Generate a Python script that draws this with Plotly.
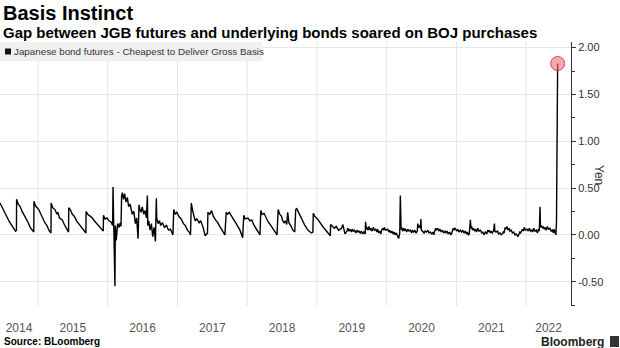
import pandas as pd
import plotly.graph_objects as go

# JGB futures cheapest-to-deliver gross basis (yen), by year
dates_2014 = ["2014-06-16", "2014-06-25", "2014-07-03", "2014-07-14", "2014-07-24", "2014-08-04",
              "2014-08-14", "2014-08-25", "2014-09-05", "2014-09-10", "2014-09-11", "2014-09-19",
              "2014-09-30", "2014-10-10", "2014-10-21", "2014-10-31", "2014-11-11", "2014-11-21",
              "2014-12-02", "2014-12-10", "2014-12-11", "2014-12-19"]
basis_2014 = [0.34, 0.30, 0.27, 0.22, 0.19, 0.14,
              0.11, 0.07, 0.04, 0.05, 0.38, 0.33,
              0.30, 0.25, 0.21, 0.16, 0.13, 0.08,
              0.05, 0.03, 0.36, 0.31]

dates_2015 = ["2015-01-05", "2015-01-15", "2015-01-27", "2015-02-06", "2015-02-17", "2015-02-27",
              "2015-03-10", "2015-03-11", "2015-03-19", "2015-03-31", "2015-04-10", "2015-04-15",
              "2015-04-24", "2015-05-08", "2015-05-19", "2015-05-29", "2015-06-10", "2015-06-11",
              "2015-06-19", "2015-06-30", "2015-07-10", "2015-07-22", "2015-08-03", "2015-08-14",
              "2015-08-26", "2015-09-09", "2015-09-10", "2015-09-18", "2015-10-01", "2015-10-13",
              "2015-10-23", "2015-11-04", "2015-11-16", "2015-11-27", "2015-12-09", "2015-12-10",
              "2015-12-18", "2015-12-28"]
basis_2015 = [0.27, 0.22, 0.18, 0.13, 0.10, 0.05,
              0.02, 0.34, 0.29, 0.27, 0.22, 0.24,
              0.18, 0.16, 0.11, 0.07, 0.03, 0.29,
              0.27, 0.22, 0.20, 0.15, 0.12, 0.08,
              0.05, 0.02, 0.25, 0.22, 0.20, 0.18,
              0.15, 0.12, 0.09, 0.06, 0.04, 0.21,
              0.17, 0.18]

dates_2016 = ["2016-01-08", "2016-01-18", "2016-01-27", "2016-01-29", "2016-02-02", "2016-02-08",
              "2016-02-10", "2016-02-15", "2016-02-22", "2016-03-01", "2016-03-07", "2016-03-11",
              "2016-03-14", "2016-03-18", "2016-03-24", "2016-03-30", "2016-04-06", "2016-04-13",
              "2016-04-20", "2016-04-27", "2016-05-09", "2016-05-17", "2016-05-25", "2016-06-01",
              "2016-06-08", "2016-06-13", "2016-06-17", "2016-06-24", "2016-06-30", "2016-07-08",
              "2016-07-15", "2016-07-22", "2016-07-27", "2016-07-29", "2016-08-03", "2016-08-10",
              "2016-08-17", "2016-08-24", "2016-08-31", "2016-09-07", "2016-09-12", "2016-09-14",
              "2016-09-21", "2016-09-28", "2016-10-05", "2016-10-14", "2016-10-24", "2016-11-04",
              "2016-11-15", "2016-11-25", "2016-12-08", "2016-12-12", "2016-12-20", "2016-12-28"]
basis_2016 = [0.15, 0.14, 0.10, 0.51, 0.05, -0.55,
              0.10, -0.06, 0.12, 0.08, 0.13, 0.09,
              0.42, 0.45, 0.38, 0.44, 0.35, 0.40,
              0.30, 0.33, 0.22, 0.25, 0.12, 0.18,
              -0.04, 0.32, 0.28, 0.24, 0.30, 0.22,
              0.26, 0.18, 0.42, 0.10, 0.15, 0.05,
              0.12, -0.02, 0.08, -0.07, 0.39, 0.18,
              0.12, 0.15, 0.10, 0.13, 0.08, 0.10,
              0.05, 0.06, 0.00, 0.27, 0.22, 0.24]

dates_2017 = ["2017-01-10", "2017-01-20", "2017-02-01", "2017-02-10", "2017-02-22", "2017-03-03",
              "2017-03-10", "2017-03-14", "2017-03-22", "2017-04-03", "2017-04-12", "2017-04-24",
              "2017-05-02", "2017-05-15", "2017-05-26", "2017-06-07", "2017-06-09", "2017-06-19",
              "2017-06-28", "2017-07-07", "2017-07-19", "2017-07-31", "2017-08-10", "2017-08-23",
              "2017-09-06", "2017-09-13", "2017-09-20", "2017-09-29", "2017-10-10", "2017-10-20",
              "2017-11-01", "2017-11-13", "2017-11-24", "2017-12-08", "2017-12-14", "2017-12-21"]
basis_2017 = [0.19, 0.17, 0.12, 0.10, 0.05, 0.03,
              0.00, 0.34, 0.25, 0.15, 0.17, 0.13,
              0.15, 0.08, -0.01, 0.02, 0.24, 0.22,
              0.26, 0.20, 0.16, 0.13, 0.09, 0.05,
              0.00, 0.24, 0.22, 0.24, 0.21, 0.17,
              0.13, 0.09, 0.05, -0.03, 0.21, 0.17]

dates_2018 = ["2018-01-05", "2018-01-15", "2018-01-25", "2018-02-06", "2018-02-16", "2018-02-28",
              "2018-03-09", "2018-03-13", "2018-03-20", "2018-03-30", "2018-04-10", "2018-04-20",
              "2018-05-02", "2018-05-15", "2018-05-25", "2018-06-06", "2018-06-12", "2018-06-20",
              "2018-06-29", "2018-07-06", "2018-07-13", "2018-07-20", "2018-07-27", "2018-08-01",
              "2018-08-07", "2018-08-17", "2018-08-28", "2018-09-07", "2018-09-12", "2018-09-18",
              "2018-09-27", "2018-10-08", "2018-10-18", "2018-10-30", "2018-11-09", "2018-11-20",
              "2018-12-04", "2018-12-11", "2018-12-13", "2018-12-20"]
basis_2018 = [0.18, 0.15, 0.16, 0.10, 0.07, 0.03,
              0.00, 0.26, 0.22, 0.23, 0.18, 0.14,
              0.11, 0.07, 0.04, 0.00, 0.27, 0.22,
              0.20, 0.15, 0.13, 0.15, 0.11, 0.24,
              0.13, 0.10, 0.05, 0.03, 0.27, 0.28,
              0.24, 0.19, 0.15, 0.10, 0.07, 0.04,
              0.02, 0.03, 0.23, 0.20]

dates_2019 = ["2019-01-04", "2019-01-16", "2019-01-28", "2019-02-08", "2019-02-20", "2019-03-04",
              "2019-03-12", "2019-03-14", "2019-03-22", "2019-04-02", "2019-04-12", "2019-04-24",
              "2019-05-10", "2019-05-17", "2019-05-28", "2019-06-07", "2019-06-12", "2019-06-18",
              "2019-06-24", "2019-07-01", "2019-07-05", "2019-07-11", "2019-07-17", "2019-07-24",
              "2019-07-30", "2019-08-05", "2019-08-09", "2019-08-16", "2019-08-22", "2019-08-28",
              "2019-09-04", "2019-09-11", "2019-09-13", "2019-09-17", "2019-09-20", "2019-09-26",
              "2019-10-01", "2019-10-07", "2019-10-11", "2019-10-17", "2019-10-23", "2019-10-29",
              "2019-11-05", "2019-11-11", "2019-11-15", "2019-11-21", "2019-11-27", "2019-12-02",
              "2019-12-06", "2019-12-12", "2019-12-16", "2019-12-20", "2019-12-26"]
basis_2019 = [0.17, 0.13, 0.10, 0.07, 0.04, 0.02,
              -0.01, 0.11, 0.09, 0.07, 0.09, 0.05,
              0.07, 0.11, 0.01, 0.04, 0.07, 0.04,
              0.06, 0.03, 0.06, 0.04, 0.05, 0.02,
              0.05, 0.03, 0.04, 0.02, 0.04, 0.01,
              0.03, 0.01, 0.14, 0.06, 0.08, 0.05,
              0.09, 0.05, 0.07, 0.04, 0.08, 0.05,
              0.06, 0.03, 0.06, 0.02, 0.04, 0.01,
              0.05, 0.07, 0.05, 0.08, 0.05]

dates_2020 = ["2020-01-07", "2020-01-13", "2020-01-17", "2020-01-23", "2020-01-29", "2020-02-04",
              "2020-02-10", "2020-02-14", "2020-02-21", "2020-02-27", "2020-03-04", "2020-03-10",
              "2020-03-13", "2020-03-17", "2020-03-20", "2020-03-25", "2020-03-31", "2020-04-03",
              "2020-04-09", "2020-04-15", "2020-04-21", "2020-04-27", "2020-05-04", "2020-05-11",
              "2020-05-15", "2020-05-22", "2020-05-28", "2020-06-03", "2020-06-10", "2020-06-12",
              "2020-06-17", "2020-06-22", "2020-06-26", "2020-06-29", "2020-07-01", "2020-07-07",
              "2020-07-15", "2020-07-21", "2020-07-28", "2020-08-04", "2020-08-10", "2020-08-17",
              "2020-08-24", "2020-08-31", "2020-09-04", "2020-09-14", "2020-09-18", "2020-09-25",
              "2020-10-01", "2020-10-07", "2020-10-13", "2020-10-20", "2020-10-26", "2020-11-02",
              "2020-11-09", "2020-11-13", "2020-11-19", "2020-11-26", "2020-12-02", "2020-12-08",
              "2020-12-14", "2020-12-18", "2020-12-24"]
basis_2020 = [0.06, 0.03, 0.05, 0.02, 0.04, 0.01,
              0.03, 0.00, 0.02, -0.01, -0.04, 0.02,
              0.42, 0.06, 0.08, 0.04, 0.07, 0.05,
              0.06, 0.03, 0.06, 0.04, 0.05, 0.02,
              0.05, 0.03, 0.05, 0.02, 0.04, 0.12,
              0.08, 0.10, 0.07, 0.17, 0.05, 0.04,
              0.02, 0.04, 0.03, 0.05, 0.02, 0.03,
              0.01, 0.03, 0.00, 0.07, 0.05, 0.07,
              0.04, 0.06, 0.03, 0.05, 0.02, 0.04,
              0.02, 0.04, 0.01, 0.03, 0.00, 0.02,
              0.07, 0.05, 0.07]

dates_2021 = ["2021-01-04", "2021-01-08", "2021-01-14", "2021-01-21", "2021-01-27", "2021-02-03",
              "2021-02-09", "2021-02-16", "2021-02-22", "2021-02-26", "2021-03-04", "2021-03-09",
              "2021-03-15", "2021-03-18", "2021-03-22", "2021-03-26", "2021-03-31", "2021-04-06",
              "2021-04-12", "2021-04-16", "2021-04-23", "2021-04-29", "2021-05-07", "2021-05-13",
              "2021-05-19", "2021-05-25", "2021-06-01", "2021-06-09", "2021-06-14", "2021-06-18",
              "2021-06-22", "2021-06-28", "2021-07-02", "2021-07-08", "2021-07-14", "2021-07-19",
              "2021-07-21", "2021-07-27", "2021-08-04", "2021-08-10", "2021-08-17", "2021-08-23",
              "2021-08-30", "2021-09-03", "2021-09-08", "2021-09-13", "2021-09-16", "2021-09-22",
              "2021-09-28", "2021-10-04", "2021-10-08", "2021-10-15", "2021-10-21", "2021-10-28",
              "2021-11-04", "2021-11-11", "2021-11-19", "2021-11-24", "2021-11-29", "2021-12-03",
              "2021-12-08", "2021-12-13", "2021-12-17", "2021-12-22", "2021-12-28"]
basis_2021 = [0.04, 0.06, 0.03, 0.05, 0.03, 0.05,
              0.02, 0.04, 0.01, 0.03, 0.00, 0.01,
              0.16, 0.07, 0.09, 0.05, 0.07, 0.04,
              0.06, 0.03, 0.07, 0.04, 0.05, 0.02,
              0.03, 0.00, 0.03, 0.01, 0.05, 0.03,
              0.05, 0.02, 0.04, 0.02, 0.04, 0.12,
              0.04, 0.03, 0.04, 0.01, 0.02, 0.00,
              0.01, 0.03, 0.02, 0.08, 0.06, 0.09,
              0.05, 0.07, 0.04, 0.05, 0.02, 0.03,
              0.00, 0.01, -0.02, 0.01, 0.03, 0.02,
              0.04, 0.06, 0.04, 0.08, 0.05]

dates_2022 = ["2022-01-06", "2022-01-12", "2022-01-18", "2022-01-24", "2022-01-31", "2022-02-04",
              "2022-02-10", "2022-02-16", "2022-02-24", "2022-03-01", "2022-03-07", "2022-03-11",
              "2022-03-15", "2022-03-17", "2022-03-22", "2022-03-28", "2022-03-31", "2022-04-06",
              "2022-04-11", "2022-04-15", "2022-04-22", "2022-04-28", "2022-05-06", "2022-05-12",
              "2022-05-18", "2022-05-24", "2022-05-27", "2022-06-01", "2022-06-06", "2022-06-09",
              "2022-06-13", "2022-06-15"]
basis_2022 = [0.06, 0.04, 0.07, 0.04, 0.05, 0.03,
              0.07, 0.04, 0.05, 0.02, 0.06, 0.04,
              0.30, 0.08, 0.10, 0.07, 0.09, 0.06,
              0.08, 0.05, 0.09, 0.06, 0.07, 0.04,
              0.05, 0.02, 0.06, 0.03, 0.00, 0.14,
              0.82, 1.83]

years = [2014, 2015, 2016, 2017, 2018, 2019, 2020, 2021, 2022]
y_ticks = [-0.5, 0.0, 0.5, 1.0, 1.5, 2.0]
y_tick_text = ["-0.50", "0.00", "0.50", "1.00", "1.50", "2.00"]

date_lists = [dates_2014, dates_2015, dates_2016, dates_2017, dates_2018,
              dates_2019, dates_2020, dates_2021, dates_2022]
basis_lists = [basis_2014, basis_2015, basis_2016, basis_2017, basis_2018,
               basis_2019, basis_2020, basis_2021, basis_2022]
for d, b in zip(date_lists, basis_lists):
    assert len(d) == len(b)
dates = pd.to_datetime([d for lst in date_lists for d in lst])
basis = [v for lst in basis_lists for v in lst]

x_start = pd.Timestamp("2014-06-16")
x_end = pd.Timestamp("2022-08-24")

FONT = "Liberation Sans"
W, H = 620, 348
M_L, M_R, M_T, M_B = 0, 49, 42, 42
PW, PH = W - M_L - M_R, H - M_T - M_B


def px(x):
    return (x - M_L) / PW


def py(y):
    return (H - M_B - y) / PH


# year labels sit in the middle of each year's visible span
label_pos = []
for yr in years:
    lo = max(pd.Timestamp(f"{yr}-01-01"), x_start)
    hi = min(pd.Timestamp(f"{yr + 1}-01-01"), x_end)
    label_pos.append(lo + (hi - lo) / 2)

fig = go.Figure()
fig.add_trace(go.Scatter(
    x=dates, y=basis, mode="lines",
    line=dict(color="#000000", width=1.4), showlegend=False, hoverinfo="skip",
))
# highlight the latest reading
fig.add_trace(go.Scatter(
    x=[dates[-1]], y=[basis[-1]], mode="markers",
    marker=dict(size=14, color="rgba(240,110,125,0.6)", line=dict(color="#d8404c", width=1)),
    showlegend=False, hoverinfo="skip",
))

shapes = []
for yr in years[1:]:
    shapes.append(dict(
        type="line", xref="x", yref="paper", x0=f"{yr}-01-01", x1=f"{yr}-01-01",
        y0=0, y1=1, line=dict(color="#e6e6e6", width=1), layer="below",
    ))
# legend box and key
shapes.append(dict(type="rect", xref="paper", yref="paper", x0=px(0), x1=px(262),
                   y0=py(61), y1=py(42), fillcolor="#f0f0f0", line=dict(width=0), layer="above"))
shapes.append(dict(type="rect", xref="paper", yref="paper", x0=px(5), x1=px(11),
                   y0=py(54.5), y1=py(48.5), fillcolor="#111111", line=dict(width=0), layer="above"))
# logo mark
shapes.append(dict(type="rect", xref="paper", yref="paper", x0=px(610), x1=px(619),
                   y0=py(347), y1=py(336), fillcolor="#333333", line=dict(width=0), layer="above"))

annotations = [
    dict(text="<b>Basis Instinct</b>", x=px(1), y=py(13), xref="paper", yref="paper",
         xanchor="left", yanchor="middle", showarrow=False,
         font=dict(family=FONT, size=20, color="#000000")),
    dict(text="<b>Gap between JGB futures and underlying bonds soared on BOJ purchases</b>",
         x=px(1), y=py(32), xref="paper", yref="paper", xanchor="left", yanchor="middle",
         showarrow=False, font=dict(family=FONT, size=15, color="#000000")),
    dict(text="Japanese bond futures - Cheapest to Deliver Gross Basis", x=px(12), y=py(51.5),
         xref="paper", yref="paper", xanchor="left", yanchor="middle", showarrow=False,
         font=dict(family=FONT, size=9.8, color="#333333")),
    dict(text="Yen", x=px(599), y=py(175), xref="paper", yref="paper", xanchor="center",
         yanchor="middle", textangle=90, showarrow=False,
         font=dict(family=FONT, size=12, color="#333333")),
    dict(text="<b>Source: BLoomberg</b>", x=px(2), y=py(341), xref="paper", yref="paper",
         xanchor="left", yanchor="middle", showarrow=False,
         font=dict(family=FONT, size=10, color="#000000")),
    dict(text="<b>Bloomberg</b>", x=px(606), y=py(342), xref="paper", yref="paper",
         xanchor="right", yanchor="middle", showarrow=False,
         font=dict(family=FONT, size=12, color="#222222")),
]

fig.update_layout(
    width=W, height=H,
    margin=dict(l=M_L, r=M_R, t=M_T, b=M_B, pad=0),
    paper_bgcolor="#ffffff", plot_bgcolor="rgba(0,0,0,0)",
    font=dict(family=FONT, color="#333333"),
    shapes=shapes, annotations=annotations,
    xaxis=dict(
        type="date", range=[x_start, x_end], tickmode="array",
        tickvals=label_pos, ticktext=[str(y) for y in years],
        ticks="outside", ticklen=11, tickcolor="rgba(0,0,0,0)",
        showgrid=False, zeroline=False, showline=False,
        tickfont=dict(family=FONT, size=12, color="#555555"),
    ),
    yaxis=dict(
        side="right", range=[-0.76, 2.06], tickmode="array",
        tickvals=y_ticks, ticktext=y_tick_text,
        ticks="outside", ticklen=4, tickcolor="#333333",
        showline=True, linecolor="#333333", linewidth=1,
        showgrid=True, gridcolor="#e6e6e6", zeroline=False,
        tickfont=dict(family=FONT, size=11, color="#333333"),
        minor=dict(dtick=0.25, tick0=0, ticks="outside", ticklen=3,
                   tickcolor="#333333", showgrid=False),
    ),
)

fig.write_html("out.html")
